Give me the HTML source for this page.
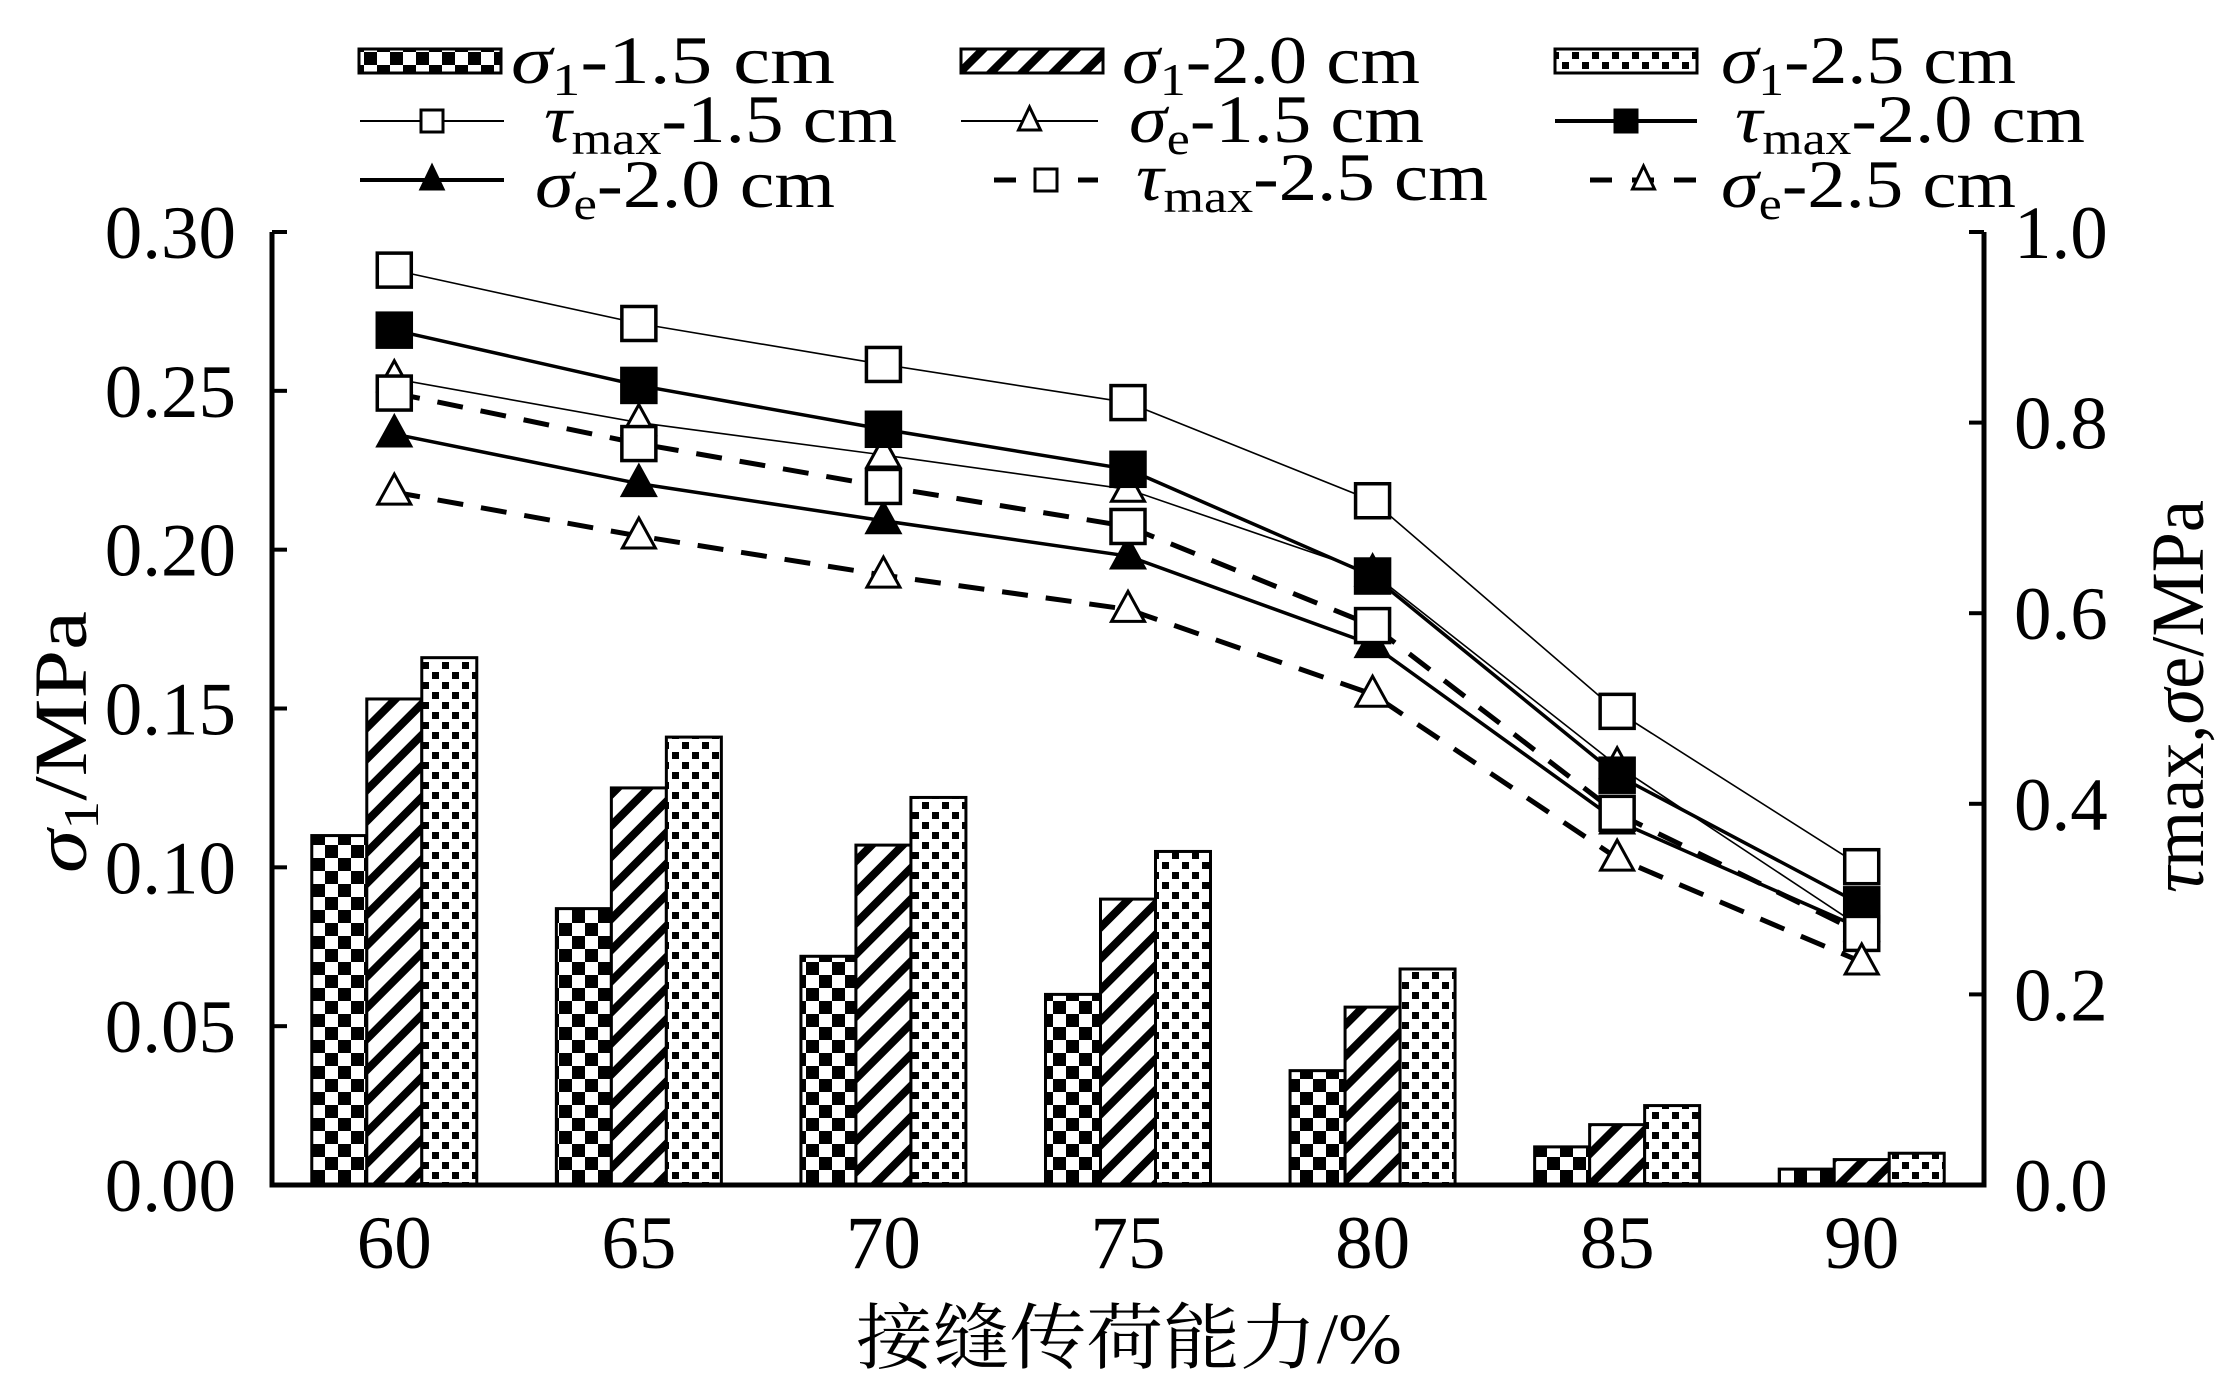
<!DOCTYPE html>
<html><head><meta charset="utf-8"><style>
html,body{margin:0;padding:0;background:#fff;}
svg{display:block;font-family:"Liberation Serif","Noto Serif CJK SC",serif;}
</style></head><body>
<svg id="chart" width="2226" height="1391" viewBox="0 0 2226 1391" xmlns="http://www.w3.org/2000/svg">
<defs>
<pattern id="pChk" patternUnits="userSpaceOnUse" width="26" height="26" x="0" y="0">
<rect width="26" height="26" fill="#fff"/><rect width="13" height="13" fill="#000"/><rect x="13" y="13" width="13" height="13" fill="#000"/>
</pattern>
<pattern id="pDiag" patternUnits="userSpaceOnUse" width="22" height="22" patternTransform="rotate(45)">
<rect width="22" height="22" fill="#fff"/><rect width="8" height="22" fill="#000"/>
</pattern>
<pattern id="pDot" patternUnits="userSpaceOnUse" width="20" height="20">
<rect width="20" height="20" fill="#fff"/><rect x="2" y="2" width="7" height="7" fill="#000"/><rect x="12" y="12" width="7" height="7" fill="#000"/>
</pattern>
</defs>
<g id="bars"></g><g id="lines"></g><g id="axes"></g><g id="legend"></g>
</svg>
<script>
const categories = ["60","65","70","75","80","85","90"];
const sigma1_15 = [0.110,0.087,0.072,0.060,0.036,0.012,0.005];
const sigma1_20 = [0.153,0.125,0.107,0.090,0.056,0.019,0.008];
const sigma1_25 = [0.166,0.141,0.122,0.105,0.068,0.025,0.010];
const tau_15 = [0.960,0.904,0.861,0.821,0.718,0.497,0.334];
const se_15  = [0.846,0.800,0.766,0.730,0.642,0.440,0.270];
const tau_20 = [0.897,0.839,0.793,0.751,0.639,0.430,0.294];
const se_20  = [0.788,0.736,0.697,0.660,0.567,0.382,0.269];
const tau_25 = [0.831,0.778,0.733,0.691,0.587,0.390,0.264];
const se_25  = [0.727,0.681,0.640,0.604,0.515,0.343,0.234];
const leftTicks = ["0.00","0.05","0.10","0.15","0.20","0.25","0.30"];
const rightTicks = ["0.0","0.2","0.4","0.6","0.8","1.0"];

const NS="http://www.w3.org/2000/svg";
const X0=272,X1=1984,YT=232,YB=1185;
const step=(X1-X0)/categories.length;
const xc=i=>X0+step*(i+0.5);
const yL=v=>YB-(v/0.30)*(YB-YT);
const yR=v=>YB-(v/1.0)*(YB-YT);
function mk(tag,attrs,parent){const e=document.createElementNS(NS,tag);for(const k in attrs)e.setAttribute(k,attrs[k]);parent.appendChild(e);return e;}

// bars
const gb=document.getElementById('bars');
const barSets=[[sigma1_15,'url(#pChk)','sigma1-1.5'],[sigma1_20,'url(#pDiag)','sigma1-2.0'],[sigma1_25,'url(#pDot)','sigma1-2.5']];
const bw=55;
barSets.forEach((s,j)=>{
  s[0].forEach((v,i)=>{
    const x=xc(i)+(j-1.5)*bw, y=yL(v);
    const r=mk('rect',{x:x,y:y,width:bw,height:YB-y,fill:s[1],stroke:'#000','stroke-width':3},gb);
    
    
  });
});

// lines
const gl=document.getElementById('lines');
const lineSets=[
 [tau_15,1.6,null,'sq',false,'tau-max-1.5'],
 [se_15,1.6,null,'tri',false,'sigma-e-1.5'],
 [tau_20,3.5,null,'sq',true,'tau-max-2.0'],
 [se_20,3.5,null,'tri',true,'sigma-e-2.0'],
 [tau_25,5,'26 18','sq',false,'tau-max-2.5'],
 [se_25,5,'26 18','tri',false,'sigma-e-2.5']
];
function marker(g,type,filled,x,y,s){
  let m;
  if(type==='sq') m=mk('rect',{x:x-s/2,y:y-s/2,width:s,height:s,fill:filled?'#000':'#fff',stroke:'#000','stroke-width':3.5},g);
  else m=mk('polygon',{points:`${x},${y-s*0.6} ${x-s*0.55},${y+s*0.4} ${x+s*0.55},${y+s*0.4}`,fill:filled?'#000':'#fff',stroke:'#000','stroke-width':3},g);
  return m;
}
lineSets.forEach(s=>{
  const g=mk('g',{},gl);
  
  
  const pts=s[0].map((v,i)=>xc(i)+','+yR(v)).join(' ');
  const pl=mk('polyline',{points:pts,fill:'none',stroke:'#000','stroke-width':s[1]},g);
  if(s[2])pl.setAttribute('stroke-dasharray',s[2]);
  
  
  s[0].forEach((v,i)=>{
    const m=marker(g,s[3],s[4],xc(i),yR(v),s[3]==='sq'?34:30);
    
    
  });
});

// axes
const ga=document.getElementById('axes');
mk('polyline',{points:`${X0},${YT} ${X0},${YB} ${X1},${YB} ${X1},${YT}`,fill:'none',stroke:'#000','stroke-width':5},ga);
leftTicks.forEach((t,i)=>{
  const y=yL(parseFloat(t));
  mk('line',{x1:X0,x2:X0+15,y1:y,y2:y,stroke:'#000','stroke-width':4},ga);
  const tx=mk('text',{x:236,y:y+26,'font-size':75,'text-anchor':'end'},ga);tx.textContent=t;
  
  
});
rightTicks.forEach((t,i)=>{
  const y=yR(parseFloat(t));
  mk('line',{x1:X1-15,x2:X1,y1:y,y2:y,stroke:'#000','stroke-width':4},ga);
  const tx=mk('text',{x:2014,y:y+26,'font-size':75},ga);tx.textContent=t;
  
  
});
categories.forEach((c,i)=>{
  const tx=mk('text',{x:xc(i),y:1268,'font-size':75,'text-anchor':'middle'},ga);tx.textContent=c;
  
  
});
</script>
<script>
(function(){
const NS="http://www.w3.org/2000/svg";
const svg=document.getElementById('chart');
function t(html,attrs,name){const e=document.createElementNS(NS,'text');for(const k in attrs)e.setAttribute(k,attrs[k]);e.innerHTML=html;svg.appendChild(e);


return e;}
t('接缝传荷能力/%',{x:856,y:1363,'font-size':72,textLength:546,lengthAdjust:'spacingAndGlyphs'},'x-axis-title');
t('<tspan font-style="italic">σ</tspan><tspan font-size="50" dy="12">1</tspan><tspan dy="-12">/MPa</tspan>',{transform:'translate(86,873) rotate(-90)','font-size':75,textLength:262,lengthAdjust:'spacingAndGlyphs'},'left-y-axis-title');
t('<tspan font-style="italic">τ</tspan>max,<tspan font-style="italic">σ</tspan>e/MPa',{transform:'translate(2203,893) rotate(-90)','font-size':75,textLength:393,lengthAdjust:'spacingAndGlyphs'},'right-y-axis-title');

const lg=document.getElementById('legend');
function mk(tag,attrs,p){const e=document.createElementNS(NS,tag);for(const k in attrs)e.setAttribute(k,attrs[k]);p.appendChild(e);return e;}
const sw=[[359,49,'url(#pChk)'],[961,49,'url(#pDiag)'],[1555,49,'url(#pDot)']];
sw.forEach(s=>{const r=mk('rect',{x:s[0],y:s[1],width:142,height:24,fill:s[2],stroke:'#000','stroke-width':3},lg);

});
function lsym(x1,x2,y,w,dash,type,filled){
  const l=mk('line',{x1:x1,x2:x2,y1:y,y2:y,stroke:'#000','stroke-width':w},lg);
  if(dash)l.setAttribute('stroke-dasharray',dash);
  const cx=(x1+x2)/2,s=22;
  if(type==='sq')mk('rect',{x:cx-s/2,y:y-s/2,width:s,height:s,fill:filled?'#000':'#fff',stroke:'#000','stroke-width':3},lg);
  else mk('polygon',{points:`${cx},${y-14} ${cx-11},${y+9} ${cx+11},${y+9}`,fill:filled?'#000':'#fff',stroke:'#000','stroke-width':3},lg);
}
lsym(360,504,121,2,null,'sq',false);
lsym(961,1098,121,2,null,'tri',false);
lsym(1555,1697,121,4,null,'sq',true);
lsym(360,504,180,4,null,'tri',true);
lsym(994,1098,180,5,'22 20','sq',false);
lsym(1590,1697,180,5,'22 20','tri',false);
const S='<tspan font-style="italic">σ</tspan>',T='<tspan font-style="italic">τ</tspan>';
const sub=s=>`<tspan font-size="46" dy="12">${s}</tspan><tspan dy="-12">`;
const L=[
 [S+sub('1')+'-1.5 cm</tspan>',511,83,324,'legend-sigma1-1.5'],
 [S+sub('1')+'-2.0 cm</tspan>',1122,83,298,'legend-sigma1-2.0'],
 [S+sub('1')+'-2.5 cm</tspan>',1721,83,295,'legend-sigma1-2.5'],
 [T+sub('max')+'-1.5 cm</tspan>',544,142,353,'legend-tau-max-1.5'],
 [S+sub('e')+'-1.5 cm</tspan>',1129,142,295,'legend-sigma-e-1.5'],
 [T+sub('max')+'-2.0 cm</tspan>',1735,142,350,'legend-tau-max-2.0'],
 [S+sub('e')+'-2.0 cm</tspan>',535,207,300,'legend-sigma-e-2.0'],
 [T+sub('max')+'-2.5 cm</tspan>',1136,200,352,'legend-tau-max-2.5'],
 [S+sub('e')+'-2.5 cm</tspan>',1721,207,295,'legend-sigma-e-2.5']
];
L.forEach(d=>{t(d[0],{x:d[1],y:d[2],'font-size':68,textLength:d[3],lengthAdjust:'spacingAndGlyphs'},d[4]);});
})();
</script>
</body></html>
